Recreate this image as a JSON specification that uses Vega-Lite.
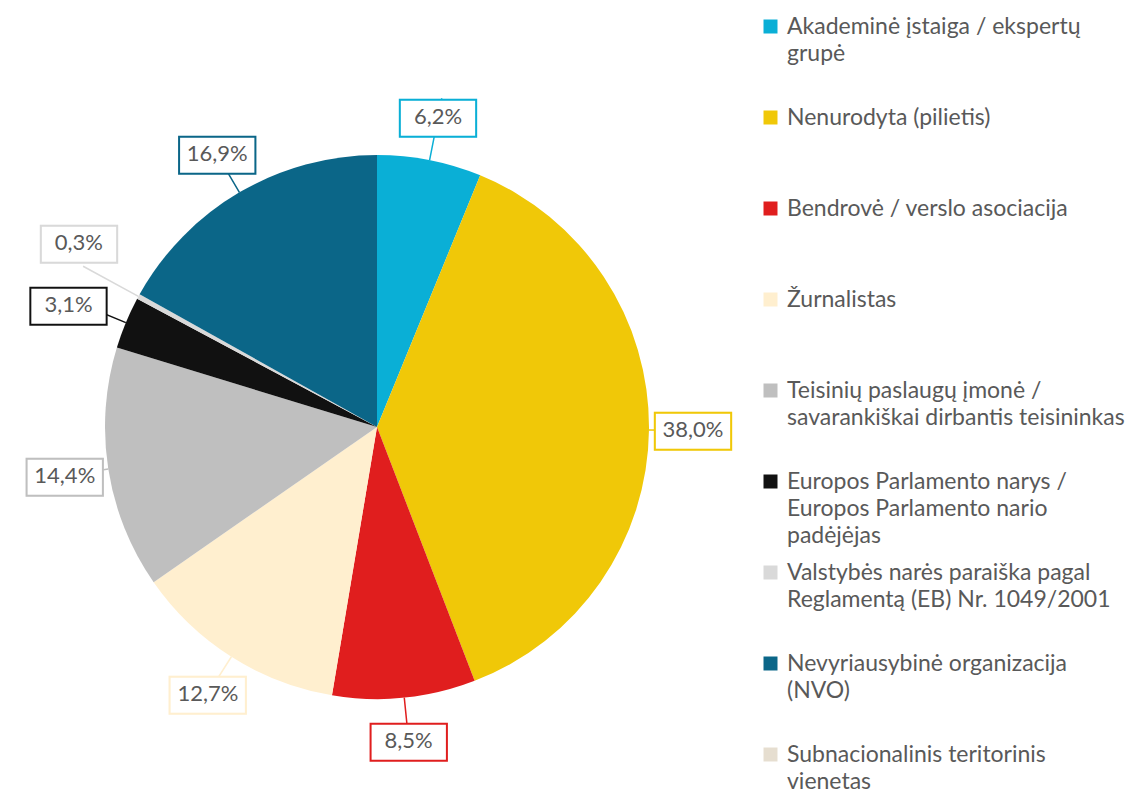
{
  "$schema": "https://vega.github.io/schema/vega-lite/v6.json",
  "width": 754,
  "height": 738,
  "padding": {"top": 58, "left": 0, "right": 378, "bottom": 0},
  "autosize": {"type": "none"},
  "background": "white",
  "config": {
    "view": {"stroke": null},
    "font": "Lato",
    "locale": {"number": {"decimal": ",", "thousands": " ", "grouping": [3], "currency": ["", " €"]}}
  },
  "data": {
    "values": [
      {"n": 1, "category": "Akademinė įstaiga / ekspertų grupė", "share": 0.062},
      {"n": 2, "category": "Nenurodyta (pilietis)", "share": 0.380},
      {"n": 3, "category": "Bendrovė / verslo asociacija", "share": 0.085},
      {"n": 4, "category": "Žurnalistas", "share": 0.127},
      {"n": 5, "category": "Teisinių paslaugų įmonė / savarankiškai dirbantis teisininkas", "share": 0.144},
      {"n": 6, "category": "Europos Parlamento narys / Europos Parlamento nario padėjėjas", "share": 0.031},
      {"n": 7, "category": "Valstybės narės paraiška pagal Reglamentą (EB) Nr. 1049/2001", "share": 0.003},
      {"n": 8, "category": "Nevyriausybinė organizacija (NVO)", "share": 0.169}
    ]
  },
  "encoding": {
    "theta": {"field": "share", "type": "quantitative", "stack": true},
    "order": {"field": "n", "type": "quantitative", "sort": "ascending"},
    "detail": {"field": "category", "type": "nominal"}
  },
  "layer": [
    {
      "mark": {"type": "arc", "radius": 272},
      "encoding": {
        "color": {
          "field": "category",
          "type": "nominal",
          "scale": {
            "domain": [
              "Akademinė įstaiga / ekspertų grupė",
              "Nenurodyta (pilietis)",
              "Bendrovė / verslo asociacija",
              "Žurnalistas",
              "Teisinių paslaugų įmonė / savarankiškai dirbantis teisininkas",
              "Europos Parlamento narys / Europos Parlamento nario padėjėjas",
              "Valstybės narės paraiška pagal Reglamentą (EB) Nr. 1049/2001",
              "Nevyriausybinė organizacija (NVO)",
              "Subnacionalinis teritorinis vienetas"
            ],
            "range": ["#0AAFD6", "#F0C808", "#E01E1E", "#FFEFCF", "#BFBFBF", "#111111", "#D9D9D9", "#0B6688", "#E6DED0"]
          },
          "legend": {
            "title": null,
            "orient": "none",
            "legendX": 759,
            "legendY": -43,
            "columns": 1,
            "gridAlign": "all",
            "rowPadding": 13,
            "padding": 0,
            "symbolType": "square",
            "symbolSize": 196,
            "symbolStrokeWidth": 0,
            "labelOffset": 5,
            "labelFont": "Lato",
            "labelFontSize": 23,
            "labelColor": "#595959",
            "labelLimit": 400,
            "encode": {"labels": {"update": {"lineHeight": {"value": 27}}}},
            "labelExpr": "datum.label == 'Akademinė įstaiga / ekspertų grupė' ? ['Akademinė įstaiga / ekspertų', 'grupė'] : datum.label == 'Teisinių paslaugų įmonė / savarankiškai dirbantis teisininkas' ? ['Teisinių paslaugų įmonė /', 'savarankiškai dirbantis teisininkas'] : datum.label == 'Europos Parlamento narys / Europos Parlamento nario padėjėjas' ? ['Europos Parlamento narys /', 'Europos Parlamento nario', 'padėjėjas'] : datum.label == 'Valstybės narės paraiška pagal Reglamentą (EB) Nr. 1049/2001' ? ['Valstybės narės paraiška pagal', 'Reglamentą (EB) Nr. 1049/2001'] : datum.label == 'Nevyriausybinė organizacija (NVO)' ? ['Nevyriausybinė organizacija', '(NVO)'] : datum.label == 'Subnacionalinis teritorinis vienetas' ? ['Subnacionalinis teritorinis', 'vienetas'] : datum.label"
          }
        }
      }
    },
    {
      "mark": {"type": "arc", "radius": 335, "radius2": 272, "padAngle": 3, "fillOpacity": 0, "strokeWidth": 1.5},
      "encoding": {
        "stroke": {
          "field": "category",
          "type": "nominal",
          "scale": {
            "domain": [
              "Akademinė įstaiga / ekspertų grupė",
              "Nenurodyta (pilietis)",
              "Bendrovė / verslo asociacija",
              "Žurnalistas",
              "Teisinių paslaugų įmonė / savarankiškai dirbantis teisininkas",
              "Europos Parlamento narys / Europos Parlamento nario padėjėjas",
              "Valstybės narės paraiška pagal Reglamentą (EB) Nr. 1049/2001",
              "Nevyriausybinė organizacija (NVO)",
              "Subnacionalinis teritorinis vienetas"
            ],
            "range": ["#0AAFD6", "#F0C808", "#E01E1E", "#FFEFCF", "#BFBFBF", "#111111", "#D9D9D9", "#0B6688", "#E6DED0"]
          },
          "legend": null
        }
      }
    },
    {
      "mark": {"type": "text", "text": "▬", "font": "DejaVu Sans", "fontSize": 100, "fill": "white", "strokeWidth": 2, "radius": 316, "align": "center", "baseline": "middle", "dy": -3},
      "encoding": {
        "stroke": {"field": "category", "type": "nominal", "legend": null},
        "opacity": {"condition": {"test": "datum.n == 6 || datum.n == 7", "value": 0}, "value": 1}
      }
    },
    {
      "mark": {"type": "text", "font": "Lato", "fontSize": 22, "fill": "#595959", "radius": 316, "align": "center", "baseline": "middle"},
      "encoding": {
        "text": {"field": "share", "type": "quantitative", "format": ".1%"},
        "opacity": {"condition": {"test": "datum.n == 6 || datum.n == 7", "value": 0}, "value": 1}
      }
    },
    {
      "mark": {"type": "text", "text": "▬", "font": "DejaVu Sans", "fontSize": 100, "fill": "white", "strokeWidth": 2, "radius": 334, "align": "center", "baseline": "middle", "dy": 3},
      "encoding": {
        "stroke": {"field": "category", "type": "nominal", "legend": null},
        "opacity": {"condition": {"test": "datum.n == 6", "value": 1}, "value": 0}
      }
    },
    {
      "mark": {"type": "text", "font": "Lato", "fontSize": 22, "fill": "#595959", "radius": 334, "align": "center", "baseline": "middle", "dy": 6},
      "encoding": {
        "text": {"field": "share", "type": "quantitative", "format": ".1%"},
        "opacity": {"condition": {"test": "datum.n == 6", "value": 1}, "value": 0}
      }
    },
    {
      "mark": {"type": "text", "text": "▬", "font": "DejaVu Sans", "fontSize": 100, "fill": "white", "strokeWidth": 2, "radius": 358, "align": "center", "baseline": "middle", "dx": 16, "dy": -15},
      "encoding": {
        "stroke": {"field": "category", "type": "nominal", "legend": null},
        "opacity": {"condition": {"test": "datum.n == 7", "value": 1}, "value": 0}
      }
    },
    {
      "mark": {"type": "text", "font": "Lato", "fontSize": 22, "fill": "#595959", "radius": 358, "align": "center", "baseline": "middle", "dx": 16, "dy": -12},
      "encoding": {
        "text": {"field": "share", "type": "quantitative", "format": ".1%"},
        "opacity": {"condition": {"test": "datum.n == 7", "value": 1}, "value": 0}
      }
    }
  ]
}
